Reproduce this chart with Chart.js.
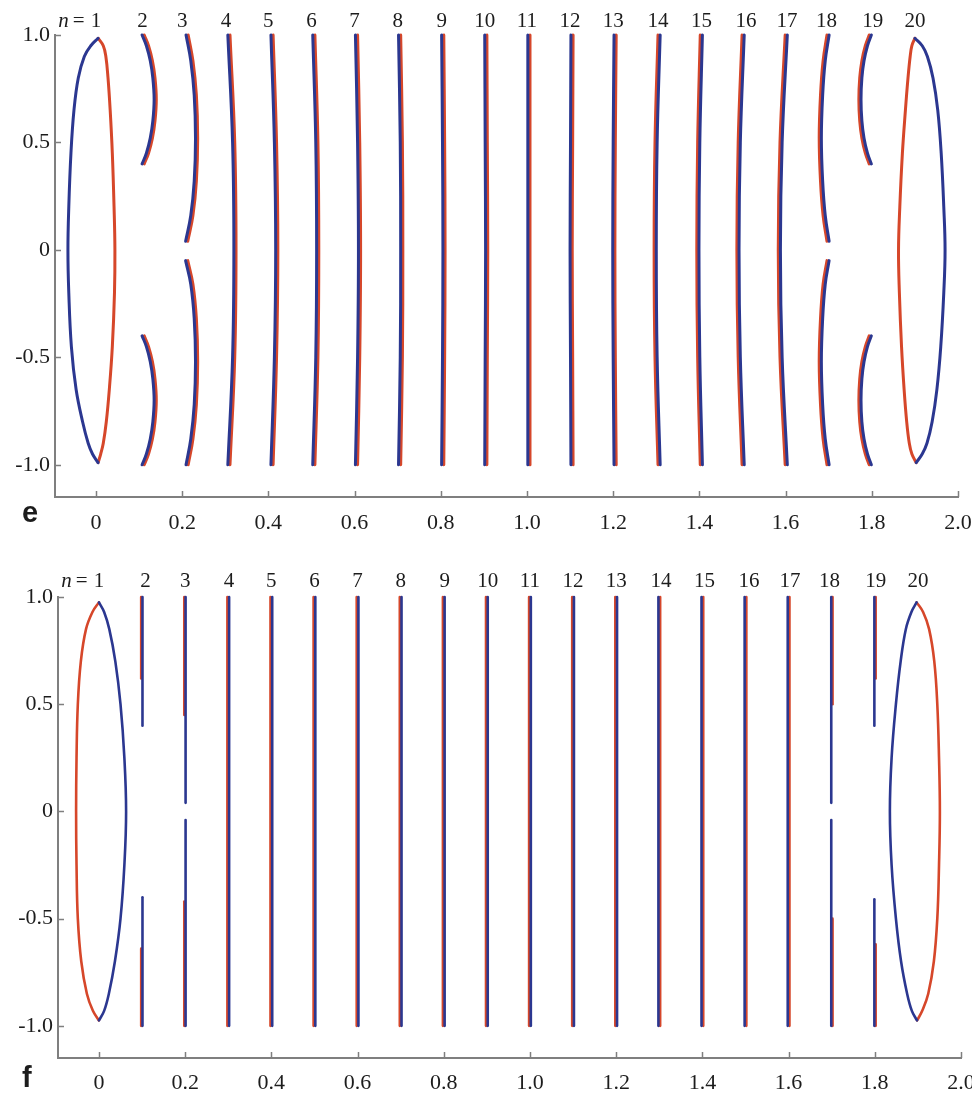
<!DOCTYPE html>
<html>
<head>
<meta charset="utf-8">
<script src="https://cdn.jsdelivr.net/npm/chart.js@4.4.1/dist/chart.umd.min.js"></script>
<style>
  body { margin: 0; background: #fff; }
  canvas { display: block; }
</style>
</head>
<body>
<canvas id="chartE" width="972" height="547"></canvas>
<canvas id="chartF" width="972" height="547"></canvas>
<script>
// mode numbers written over the curves (same in both panels)
const modeLabels = ['1', '2', '3', '4', '5', '6', '7', '8', '9', '10', '11', '12', '13', '14', '15', '16', '17', '18', '19', '20'];
const modeLabelX = [0, 0.108, 0.2, 0.302, 0.4, 0.5, 0.6, 0.7, 0.802, 0.902, 1.0, 1.1, 1.2, 1.304, 1.405, 1.508, 1.603, 1.695, 1.802, 1.9];

const xTicks = [0, 0.2, 0.4, 0.6, 0.8, 1.0, 1.2, 1.4, 1.6, 1.8, 2.0];
const xTickLabels = ['0', '0.2', '0.4', '0.6', '0.8', '1.0', '1.2', '1.4', '1.6', '1.8', '2.0'];
const yTicks = [-1, -0.5, 0, 0.5, 1];
const yTickLabels = ['-1.0', '-0.5', '0', '0.5', '1.0'];

// ---- panel e ----
// closed loops n = 1 and n = 20, x read at these heights
const eLoopY = [0.985, 0.95, 0.9, 0.8, 0.65, 0.45, 0.2, 0, -0.2, -0.45, -0.65, -0.8, -0.9, -0.95, -0.99];
const eLoop1Blue = [0.005, -0.012, -0.027, -0.041, -0.051, -0.058, -0.063, -0.065, -0.063, -0.057, -0.046, -0.031, -0.018, -0.008, 0.005];
const eLoop1Red = [0.005, 0.017, 0.023, 0.028, 0.033, 0.038, 0.042, 0.044, 0.043, 0.038, 0.031, 0.024, 0.017, 0.011, 0.005];
const eLoop20Red = [1.9, 1.893, 1.889, 1.884, 1.878, 1.871, 1.865, 1.862, 1.864, 1.869, 1.875, 1.881, 1.887, 1.893, 1.903];
const eLoop20Blue = [1.9, 1.917, 1.929, 1.942, 1.953, 1.961, 1.967, 1.97, 1.967, 1.96, 1.951, 1.94, 1.928, 1.917, 1.903];

// short arcs n = 2 and n = 19 (rows: n2 top, n2 bottom, n19 top, n19 bottom)
const eArcTopY = [1.0, 0.95, 0.88, 0.8, 0.7, 0.6, 0.52, 0.45, 0.40];
const eArcBotY = [-0.40, -0.45, -0.52, -0.6, -0.7, -0.8, -0.88, -0.95, -1.0];
const eArcBlue = [
  [0.107, 0.117, 0.126, 0.132, 0.135, 0.132, 0.126, 0.117, 0.107],
  [0.107, 0.117, 0.126, 0.132, 0.135, 0.132, 0.126, 0.117, 0.107],
  [1.799, 1.790, 1.782, 1.777, 1.775, 1.777, 1.782, 1.790, 1.799],
  [1.799, 1.790, 1.782, 1.777, 1.775, 1.777, 1.782, 1.790, 1.799]
];
const eArcRed = [
  [0.112, 0.122, 0.131, 0.137, 0.140, 0.137, 0.131, 0.122, 0.112],
  [0.112, 0.122, 0.131, 0.137, 0.140, 0.137, 0.131, 0.122, 0.112],
  [1.794, 1.785, 1.777, 1.772, 1.770, 1.772, 1.777, 1.785, 1.794],
  [1.794, 1.785, 1.777, 1.772, 1.770, 1.772, 1.777, 1.785, 1.794]
];

// curves n = 3 and n = 18, broken near y = 0 (rows: n3 top, n3 bottom, n18 top, n18 bottom)
const eGapTopY = [1.0, 0.88, 0.72, 0.52, 0.32, 0.16, 0.04];
const eGapBotY = [-0.05, -0.16, -0.32, -0.52, -0.72, -0.88, -1.0];
const eGapBlue = [
  [0.209, 0.220, 0.228, 0.231, 0.228, 0.220, 0.208],
  [0.208, 0.220, 0.228, 0.231, 0.228, 0.220, 0.209],
  [1.701, 1.692, 1.686, 1.683, 1.686, 1.692, 1.701],
  [1.701, 1.692, 1.686, 1.683, 1.686, 1.692, 1.701]
];
const eGapRed = [
  [0.214, 0.225, 0.233, 0.236, 0.233, 0.225, 0.213],
  [0.213, 0.225, 0.233, 0.236, 0.233, 0.225, 0.214],
  [1.696, 1.687, 1.681, 1.678, 1.681, 1.687, 1.696],
  [1.696, 1.687, 1.681, 1.678, 1.681, 1.687, 1.696]
];

// full curves n = 4 .. 17
const eLineY = [1, 0.5, 0, -0.5, -1];
const eLineBlue = [
  [0.306, 0.317, 0.320, 0.317, 0.306],
  [0.406, 0.414, 0.417, 0.414, 0.406],
  [0.503, 0.510, 0.512, 0.510, 0.503],
  [0.602, 0.607, 0.609, 0.607, 0.602],
  [0.702, 0.706, 0.707, 0.706, 0.702],
  [0.802, 0.804, 0.805, 0.804, 0.802],
  [0.902, 0.903, 0.904, 0.903, 0.902],
  [1.002, 1.002, 1.002, 1.002, 1.002],
  [1.102, 1.101, 1.100, 1.101, 1.102],
  [1.202, 1.200, 1.199, 1.200, 1.202],
  [1.309, 1.302, 1.300, 1.302, 1.309],
  [1.407, 1.401, 1.399, 1.401, 1.407],
  [1.504, 1.495, 1.492, 1.495, 1.504],
  [1.604, 1.592, 1.588, 1.592, 1.604]
];
const eLineRed = [
  [0.311, 0.322, 0.325, 0.322, 0.311],
  [0.411, 0.419, 0.422, 0.419, 0.411],
  [0.508, 0.515, 0.517, 0.515, 0.508],
  [0.607, 0.612, 0.614, 0.612, 0.607],
  [0.707, 0.711, 0.712, 0.711, 0.707],
  [0.807, 0.809, 0.810, 0.809, 0.807],
  [0.907, 0.908, 0.909, 0.908, 0.907],
  [1.007, 1.007, 1.007, 1.007, 1.007],
  [1.107, 1.106, 1.105, 1.106, 1.107],
  [1.207, 1.205, 1.204, 1.205, 1.207],
  [1.304, 1.297, 1.295, 1.297, 1.304],
  [1.402, 1.396, 1.394, 1.396, 1.402],
  [1.499, 1.490, 1.487, 1.490, 1.499],
  [1.599, 1.587, 1.583, 1.587, 1.599]
];

// ---- panel f ----
const fLoopY = [0.975, 0.93, 0.85, 0.7, 0.5, 0.25, 0, -0.25, -0.5, -0.7, -0.85, -0.93, -0.975];
const fLoop1Red = [0, -0.015, -0.03, -0.042, -0.049, -0.052, -0.053, -0.052, -0.049, -0.041, -0.028, -0.014, 0];
const fLoop1Blue = [0, 0.012, 0.024, 0.038, 0.05, 0.059, 0.063, 0.059, 0.05, 0.037, 0.023, 0.012, 0];
const fLoop20Blue = [1.897, 1.885, 1.872, 1.86, 1.849, 1.839, 1.835, 1.839, 1.849, 1.861, 1.875, 1.886, 1.898];
const fLoop20Red = [1.897, 1.912, 1.926, 1.938, 1.945, 1.949, 1.951, 1.949, 1.945, 1.937, 1.924, 1.91, 1.898];

// broken straight curves n = 2, 3, 18, 19
const fStubBlueX = [0.101, 0.201, 1.699, 1.799];
const fStubRedX = [0.098, 0.198, 1.702, 1.802];
const fStubBlueTopEnd = [0.40, 0.04, 0.04, 0.40];
const fStubBlueBotEnd = [-0.40, -0.04, -0.04, -0.41];
const fStubRedTopEnd = [0.62, 0.45, 0.5, 0.62];
const fStubRedBotEnd = [-0.64, -0.42, -0.5, -0.62];

// full straight curves n = 4 .. 17
const fLineY = [1, -1];
const fLineRed = [0.298, 0.398, 0.498, 0.598, 0.698, 0.798, 0.898, 0.998, 1.098, 1.198, 1.302, 1.402, 1.502, 1.602];
const fLineBlue = [0.302, 0.402, 0.502, 0.602, 0.702, 0.802, 0.902, 1.002, 1.102, 1.202, 1.298, 1.398, 1.498, 1.598];

const BLUE = '#2b3790';
const RED = '#d6472a';
const AXIS = '#7f7f7f';
const TXT = '#1c1c1c';

function curve(xs, ys, color, width) {
  return {
    data: ys.map(function (y, i) { return { x: xs[i], y: y }; }),
    showLine: true,
    borderColor: color,
    borderWidth: width,
    borderCapStyle: 'round',
    borderJoinStyle: 'round',
    pointRadius: 0,
    tension: 0.4,
    clip: false,
    order: color === BLUE ? 0 : 1 // blue drawn over red
  };
}

// panel e datasets
var eSets = [];
eSets.push(curve(eLoop1Blue, eLoopY, BLUE, 3), curve(eLoop1Red, eLoopY, RED, 3));
eSets.push(curve(eLoop20Blue, eLoopY, BLUE, 3), curve(eLoop20Red, eLoopY, RED, 3));
eArcBlue.forEach(function (row, i) {
  var ys = i % 2 === 0 ? eArcTopY : eArcBotY;
  eSets.push(curve(eArcRed[i], ys, RED, 3), curve(row, ys, BLUE, 3));
});
eGapBlue.forEach(function (row, i) {
  var ys = i % 2 === 0 ? eGapTopY : eGapBotY;
  eSets.push(curve(eGapRed[i], ys, RED, 3), curve(row, ys, BLUE, 3));
});
eLineBlue.forEach(function (row, i) {
  eSets.push(curve(eLineRed[i], eLineY, RED, 3), curve(row, eLineY, BLUE, 3));
});

// panel f datasets
var fSets = [];
fSets.push(curve(fLoop1Blue, fLoopY, BLUE, 2.6), curve(fLoop1Red, fLoopY, RED, 2.6));
fSets.push(curve(fLoop20Blue, fLoopY, BLUE, 2.6), curve(fLoop20Red, fLoopY, RED, 2.6));
fStubBlueX.forEach(function (bx, i) {
  var rx = fStubRedX[i];
  fSets.push(curve([rx, rx], [1, fStubRedTopEnd[i]], RED, 2.6));
  fSets.push(curve([rx, rx], [fStubRedBotEnd[i], -1], RED, 2.6));
  fSets.push(curve([bx, bx], [1, fStubBlueTopEnd[i]], BLUE, 2.6));
  fSets.push(curve([bx, bx], [fStubBlueBotEnd[i], -1], BLUE, 2.6));
});
fLineBlue.forEach(function (bx, i) {
  var rx = fLineRed[i];
  fSets.push(curve([rx, rx], fLineY, RED, 2.6), curve([bx, bx], fLineY, BLUE, 2.6));
});

// inward tick marks, mode numbers and the panel letter
const decor = {
  id: 'decor',
  afterDraw: function (chart, args, opts) {
    var ctx = chart.ctx, area = chart.chartArea;
    var xs = chart.scales.x, ys = chart.scales.y;
    ctx.save();
    ctx.strokeStyle = AXIS;
    ctx.lineWidth = 1.5;
    xTicks.forEach(function (v) {
      var px = Math.round(xs.getPixelForValue(v)) + 0.5;
      ctx.beginPath(); ctx.moveTo(px, area.bottom); ctx.lineTo(px, area.bottom - 6); ctx.stroke();
    });
    yTicks.forEach(function (v) {
      var py = Math.round(ys.getPixelForValue(v)) + 0.5;
      ctx.beginPath(); ctx.moveTo(area.left, py); ctx.lineTo(area.left + 6, py); ctx.stroke();
    });

    ctx.fillStyle = TXT;
    ctx.font = '21px "Liberation Serif"';
    ctx.textAlign = 'center';
    ctx.textBaseline = 'middle';
    var ly = area.top - opts.labelGap;
    modeLabels.forEach(function (t, i) {
      ctx.fillText(t, xs.getPixelForValue(modeLabelX[i]), ly);
    });
    var oneLeft = xs.getPixelForValue(modeLabelX[0]) - ctx.measureText('1').width / 2;
    ctx.textAlign = 'right';
    ctx.fillText('=', oneLeft - 6, ly);
    var eqW = ctx.measureText('=').width;
    ctx.font = 'italic 21px "Liberation Serif"';
    ctx.fillText('n', oneLeft - 6 - eqW - 4, ly);

    ctx.font = 'bold 29px "Liberation Sans"';
    ctx.textAlign = 'left';
    ctx.textBaseline = 'alphabetic';
    ctx.fillText(opts.letter, opts.letterX, opts.letterY);
    ctx.restore();
  }
};

function makeChart(id, datasets, box) {
  return new Chart(id, {
    type: 'scatter',
    data: { datasets: datasets },
    options: {
      responsive: false,
      animation: false,
      events: [],
      layout: { padding: { top: box.top, right: box.right, left: 0, bottom: 0 } },
      plugins: {
        legend: { display: false },
        tooltip: { enabled: false },
        decor: { letter: box.letter, letterX: 22, letterY: box.letterY, labelGap: box.labelGap }
      },
      scales: {
        x: {
          type: 'linear',
          min: -0.095,
          max: 2.0,
          afterBuildTicks: function (s) { s.ticks = xTicks.map(function (v) { return { value: v }; }); },
          afterFit: function (s) { s.height = box.xHeight; s.paddingLeft = 0; s.paddingRight = 0; },
          grid: { display: false, drawTicks: false },
          border: { display: true, color: AXIS, width: 2 },
          ticks: {
            padding: box.xPad,
            color: TXT,
            font: { family: 'Liberation Serif', size: 22 },
            maxRotation: 0,
            autoSkip: false,
            callback: function (v, i) { return xTickLabels[i]; }
          }
        },
        y: {
          type: 'linear',
          min: -1.15,
          max: 1.0,
          afterBuildTicks: function (s) { s.ticks = yTicks.map(function (v) { return { value: v }; }); },
          afterFit: function (s) { s.width = box.yWidth; s.paddingTop = 0; s.paddingBottom = 0; },
          grid: { display: false, drawTicks: false },
          border: { display: true, color: AXIS, width: 2 },
          ticks: {
            padding: 5,
            color: TXT,
            font: { family: 'Liberation Serif', size: 22 },
            autoSkip: false,
            callback: function (v, i) { return yTickLabels[i]; }
          }
        }
      }
    },
    plugins: [decor]
  });
}

makeChart('chartE', eSets, { top: 35, right: 14, yWidth: 55, xHeight: 50, xPad: 13, letter: 'e', letterY: 522, labelGap: 14 });
makeChart('chartF', fSets, { top: 50, right: 11, yWidth: 58, xHeight: 36, xPad: 12, letter: 'f', letterY: 540, labelGap: 16 });
</script>
</body>
</html>
